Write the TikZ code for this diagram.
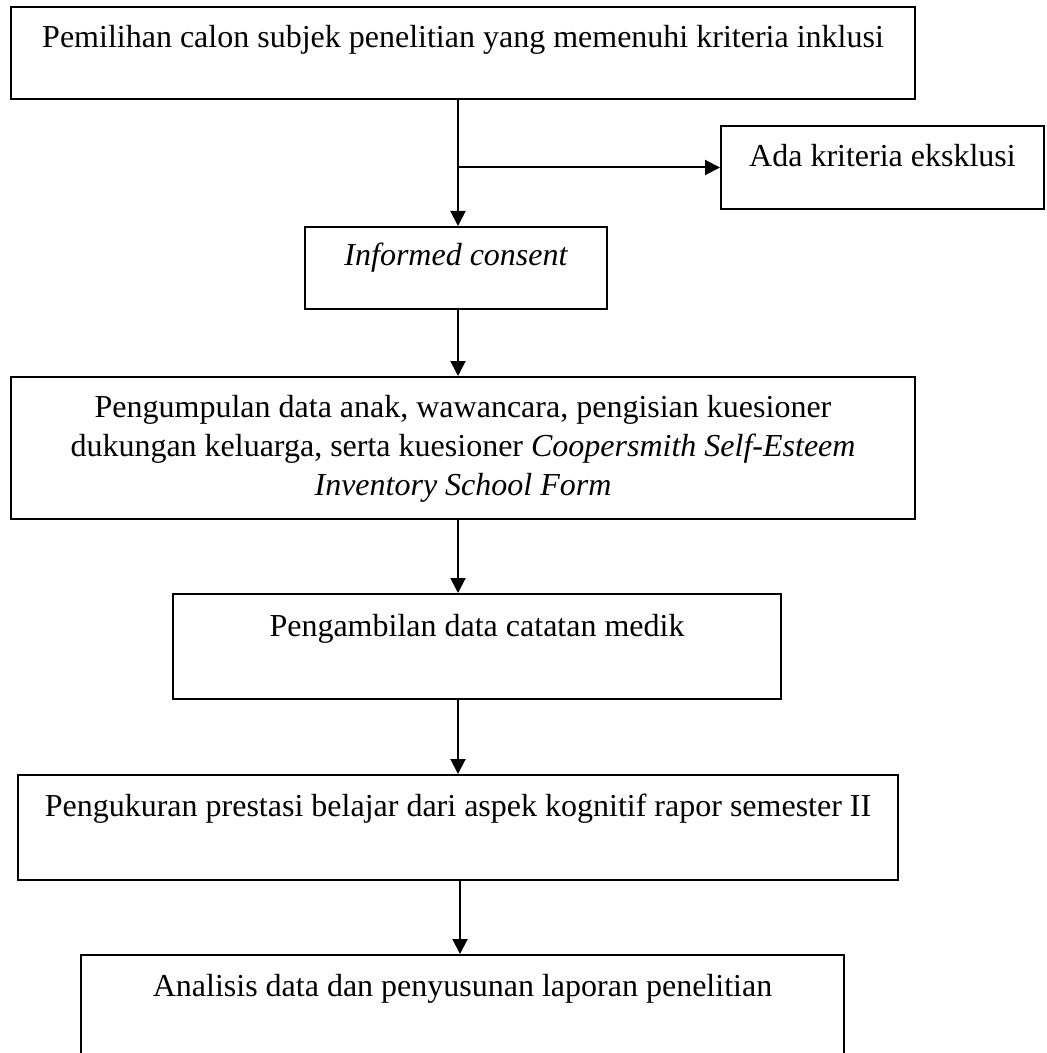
\documentclass[tikz,border=0pt]{standalone}
\usepackage{fontspec}
\setmainfont{Liberation Serif}
\usetikzlibrary{arrows.meta}
\begin{document}
\begin{tikzpicture}[x=0.5pt,y=-0.5pt,
  box/.style={draw,line width=1pt,rectangle,inner sep=0pt},
  lbl/.style={inner sep=0pt,font=\fontsize{16pt}{19.5pt}\selectfont,align=center},
  conn/.style={line width=1pt,-{Triangle[length=7.5pt,width=7.5pt]}}]
\useasboundingbox (0,0) rectangle (1046,1053);
\clip (0,0) rectangle (1046,1053);
% boxes
\node[box,minimum width=452pt,minimum height=46pt] (box1) at (463,53) {};
\node[box,minimum width=161.5pt,minimum height=41.5pt] (ada) at (882.5,167.5) {};
\node[box,minimum width=151pt,minimum height=41pt] (inf) at (456,268) {};
\node[box,minimum width=452pt,minimum height=71pt] (box4) at (463,448) {};
\node[box,minimum width=304pt,minimum height=52.5pt] (box5) at (477,646.5) {};
\node[box,minimum width=440pt,minimum height=52.5pt] (box6) at (458,827.5) {};
\node[box,minimum width=381.5pt,minimum height=55pt] (box7) at (462.5,1010) {};
% texts
\node[lbl,anchor=base] (t1) at (463,48) {Pemilihan calon subjek penelitian yang memenuhi kriteria inklusi};
\node[lbl,anchor=base] (tada) at (882.5,166.5) {Ada kriteria eksklusi};
\node[lbl,anchor=base] (tinf) at (456,266) {\itshape Informed consent};
\node[lbl] (t4) at (463,449) {Pengumpulan data anak, wawancara, pengisian kuesioner\\dukungan keluarga, serta kuesioner \textit{Coopersmith Self-Esteem}\\\textit{Inventory School Form}};
\node[lbl,anchor=base] (t5) at (477,636) {Pengambilan data catatan medik};
\node[lbl,anchor=base] (t6) at (458,816) {Pengukuran prestasi belajar dari aspek kognitif rapor semester II};
\node[lbl,anchor=base] (t7) at (462.5,996) {Analisis data dan penyusunan laporan penelitian};
% connector axis
\coordinate (ax) at (458,0);
\coordinate (ax2) at (460,0);
\draw[conn] (box1.south -| ax) -- (inf.north -| ax);
\draw[conn] (ax |- ada.west) -- (ada.west);
\draw[conn] (inf.south -| ax) -- (box4.north -| ax);
\draw[conn] (box4.south -| ax) -- (box5.north -| ax);
\draw[conn] (box5.south -| ax) -- (box6.north -| ax);
\draw[conn] (box6.south -| ax2) -- (box7.north -| ax2);
\end{tikzpicture}
\end{document}
